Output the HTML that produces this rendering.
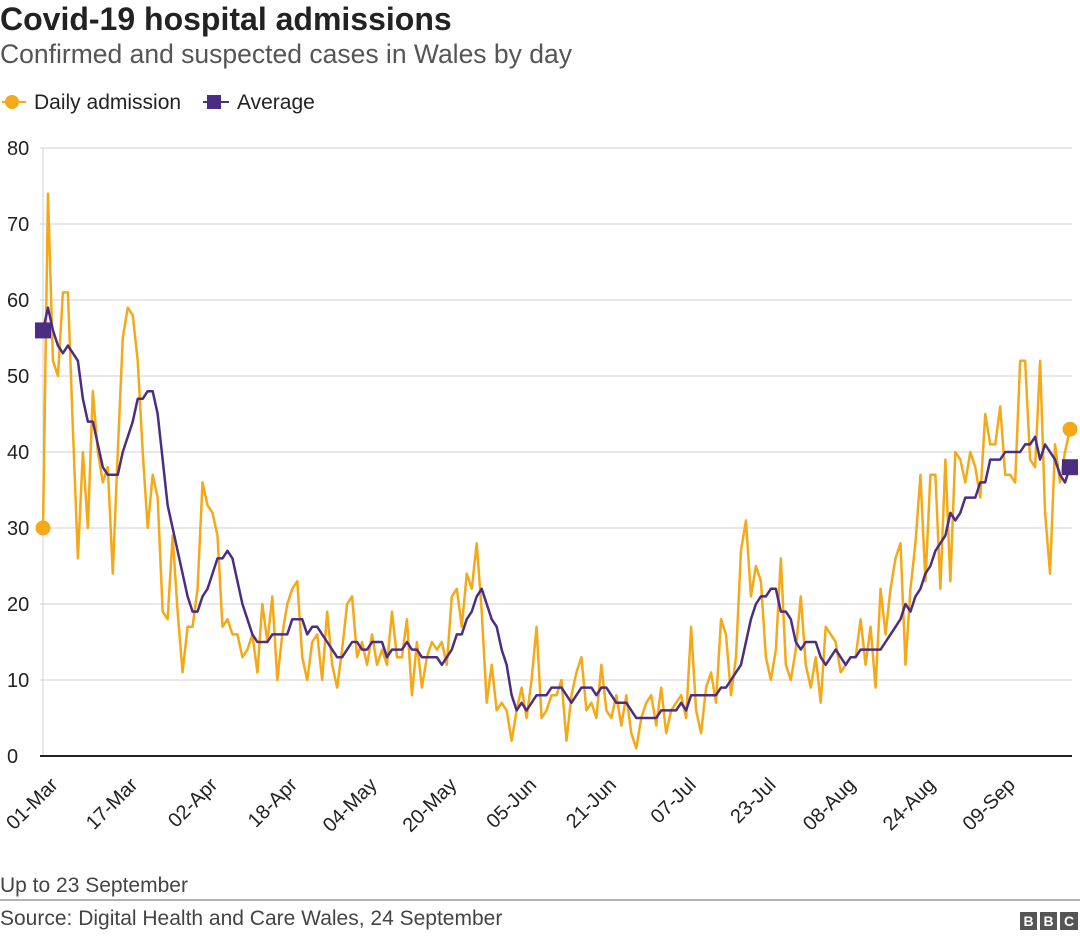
<!DOCTYPE html>
<html><head><meta charset="utf-8">
<style>
body{margin:0;background:#fff;width:1080px;height:937px;overflow:hidden;font-family:"Liberation Sans",Arial,sans-serif;}
svg{position:absolute;left:0;top:0;}
</style></head>
<body>
<svg id="chart" width="1080" height="937">
<text x="0" y="30" font-size="32" font-weight="bold" fill="#222">Covid-19 hospital admissions</text>
<text x="0" y="63" font-size="26.5" fill="#555">Confirmed and suspected cases in Wales by day</text>
<g>
<line x1="2" y1="102" x2="26" y2="102" stroke="#f5a918" stroke-width="2"/><circle cx="12" cy="102" r="7" fill="#f5a918"/>
<text x="34" y="109" font-size="21" fill="#222">Daily admission</text></g>
<g>
<line x1="203" y1="102" x2="229" y2="102" stroke="#4b2e83" stroke-width="2"/><rect x="207" y="95" width="14" height="14" fill="#4b2e83"/>
<text x="237" y="109" font-size="21" fill="#222">Average</text></g>
<g id="grid"></g><g id="ylab"></g><g id="xlab"></g><g id="series"></g>
<line x1="0" y1="900" x2="1080" y2="900" stroke="#666" stroke-width="1"/>
<text x="0" y="892" font-size="21" fill="#444">Up to 23 September</text>
<text x="0" y="925" font-size="21" fill="#444">Source: Digital Health and Care Wales, 24 September</text>
<g>
<rect x="1020" y="912" width="17" height="18" fill="#555"/><rect x="1040" y="912" width="17" height="18" fill="#555"/><rect x="1060" y="912" width="18" height="18" fill="#555"/>
<text x="1028.5" y="926" font-size="14" font-weight="bold" fill="#fff" text-anchor="middle">B</text>
<text x="1048.5" y="926" font-size="14" font-weight="bold" fill="#fff" text-anchor="middle">B</text>
<text x="1069" y="926" font-size="14" font-weight="bold" fill="#fff" text-anchor="middle">C</text></g>
</svg>
<script>
const yTicks=[0,10,20,30,40,50,60,70,80];
const xTickLabels=["01-Mar","17-Mar","02-Apr","18-Apr","04-May","20-May","05-Jun","21-Jun","07-Jul","23-Jul","08-Aug","24-Aug","09-Sep"];
const daily=[30,74,52,50,61,61,43,26,40,30,48,40,36,38,24,40,55,59,58,52,40,30,37,34,19,18,29,19,11,17,17,22,36,33,32,29,17,18,16,16,13,14,16,11,20,15,21,10,16,20,22,23,13,10,15,16,10,19,12,9,14,20,21,13,15,12,16,12,14,12,19,13,13,18,8,15,9,13,15,14,15,12,21,22,17,24,22,28,19,7,12,6,7,6,2,6,9,5,10,17,5,6,8,8,10,2,8,11,13,6,7,5,12,6,5,8,4,8,3,1,5,7,8,4,9,3,6,7,8,5,17,6,3,9,11,7,18,16,8,13,27,31,21,25,23,13,10,14,26,12,10,14,21,12,9,13,7,17,16,15,11,12,13,13,18,12,17,9,22,16,22,26,28,12,22,28,37,23,37,37,22,39,23,40,39,36,40,38,34,45,41,41,46,37,37,36,52,52,39,38,52,32,24,41,36,40,43];
const average=[56,59,56,54,53,54,53,52,47,44,44,41,38,37,37,37,40,42,44,47,47,48,48,45,39,33,30,27,24,21,19,19,21,22,24,26,26,27,26,23,20,18,16,15,15,15,16,16,16,16,18,18,18,16,17,17,16,15,14,13,13,14,15,15,14,14,15,15,15,13,14,14,14,15,14,14,13,13,13,13,12,13,14,16,16,18,19,21,22,20,18,17,14,12,8,6,7,6,7,8,8,8,9,9,9,8,7,8,9,9,9,8,9,9,8,7,7,7,6,5,5,5,5,5,6,6,6,6,7,6,8,8,8,8,8,8,9,9,10,11,12,15,18,20,21,21,22,22,19,19,18,15,14,15,15,15,13,12,13,14,13,12,13,13,14,14,14,14,14,15,16,17,18,20,19,21,22,24,25,27,28,29,32,31,32,34,34,34,36,36,39,39,39,40,40,40,40,41,41,42,39,41,40,39,37,36,38];
const X0=43,X1=1070,Y0=756,Y1=148,YMAX=80,N=daily.length;
const xs=i=>X0+(X1-X0)*i/(N-1);
const ys=v=>Y0-(Y0-Y1)*v/YMAX;
const NS="http://www.w3.org/2000/svg";
function mk(t,a,p){const e=document.createElementNS(NS,t);for(const k in a)e.setAttribute(k,a[k]);p.appendChild(e);return e;}
const grid=document.getElementById('grid'),ylab=document.getElementById('ylab'),xlab=document.getElementById('xlab'),ser=document.getElementById('series');
yTicks.forEach(v=>{
  if(v>0){const g=mk('line',{x1:40,x2:1072,y1:ys(v),y2:ys(v),stroke:'#d0d0d0','stroke-width':1},grid);
  
  }
  const t=mk('text',{x:7,y:ys(v)+7,'font-size':20,fill:'#222'},ylab);t.textContent=v;
  
  
});
const vax=mk('line',{x1:43,x2:43,y1:148,y2:756,stroke:'#d0d0d0','stroke-width':1},grid);


const base=mk('line',{x1:40,x2:1072,y1:756,y2:756,stroke:'#222','stroke-width':2},grid);


xTickLabels.forEach((l,k)=>{
  const x=xs(k*16)+16,y=786;
  const t=mk('text',{x:x,y:y,'font-size':20,fill:'#222','text-anchor':'end',transform:`rotate(-45 ${x} ${y})`},xlab);t.textContent=l;
  
  
});
const dp=mk('polyline',{points:daily.map((v,i)=>xs(i)+','+ys(v)).join(' '),fill:'none',stroke:'#f5a918','stroke-width':2.5,'stroke-linejoin':'round'},ser);


const ap=mk('polyline',{points:average.map((v,i)=>xs(i)+','+ys(v)).join(' '),fill:'none',stroke:'#4b2e83','stroke-width':2.5,'stroke-linejoin':'round'},ser);


[[0],[N-1]].forEach(([i])=>{
  const c=mk('circle',{cx:xs(i),cy:ys(daily[i]),r:7.5,fill:'#f5a918'},ser);
  
  
  const r=mk('rect',{x:xs(i)-8,y:ys(average[i])-8,width:16,height:16,fill:'#4b2e83'},ser);
  
  
});
</script>
</body></html>
